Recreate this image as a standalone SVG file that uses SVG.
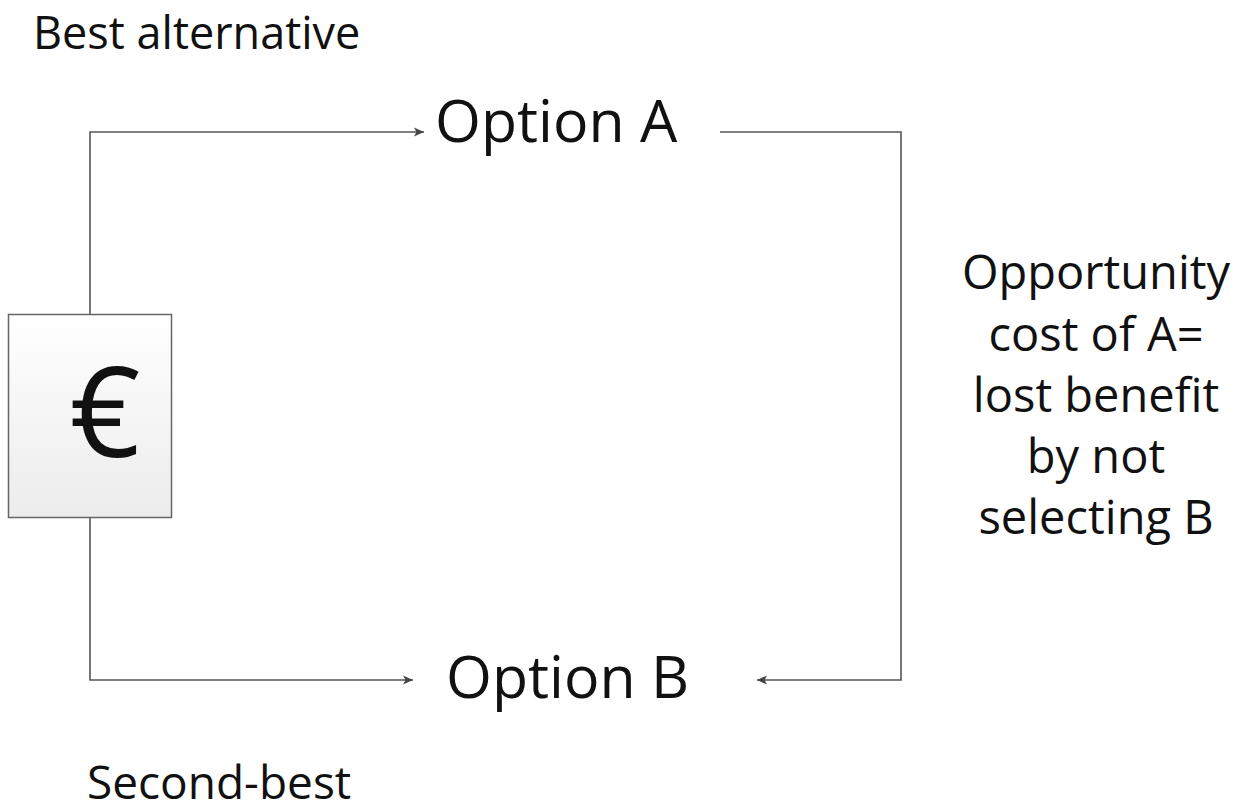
<svg xmlns="http://www.w3.org/2000/svg" width="1238" height="811" viewBox="0 0 1238 811">
<style>
text{font-family:"Open Sans","Noto Sans","Liberation Sans",sans-serif;fill:#111;}
.conn{fill:none;stroke:#555;stroke-width:1.6;}
</style>
<defs>
<linearGradient id="boxg" x1="0" y1="0" x2="0" y2="1">
<stop offset="0" stop-color="#ffffff"/>
<stop offset="1" stop-color="#ececec"/>
</linearGradient>
<marker id="arr" viewBox="0 0 10 10" refX="10" refY="5" markerWidth="10" markerHeight="10" markerUnits="userSpaceOnUse" orient="auto">
<path d="M0,0.5 L10,5 L0,9.5 L2.5,5 Z" fill="#444"/>
</marker>
</defs>
<rect width="1238" height="811" fill="#ffffff"/>
<g id="connectors">
<path class="conn" d="M90,314 V132 H424" marker-end="url(#arr)"/>
<path class="conn" d="M90,517 V680 H413" marker-end="url(#arr)"/>
<path class="conn" d="M720,132 H901 V680 H757" marker-end="url(#arr)"/>
</g>
<g id="euro">
<rect x="8.5" y="314.5" width="163" height="203" fill="url(#boxg)" stroke="#666" stroke-width="1.5"/>
<text x="105" y="457" font-size="124" text-anchor="middle">€</text>
</g>
<g id="optionA">
<text x="435" y="142" font-size="59">Option A</text>
</g>
<g id="optionB">
<text x="446" y="698" font-size="59">Option B</text>
</g>
<g id="best">
<text x="33" y="48.5" font-size="45">Best alternative</text>
</g>
<g id="second">
<text x="87" y="799" font-size="46">Second-best</text>
</g>
<g id="oppcost">
<text x="1096" y="289" font-size="47" text-anchor="middle">Opportunity</text>
<text x="1096" y="351" font-size="47" text-anchor="middle">cost of A=</text>
<text x="1096" y="412" font-size="47" text-anchor="middle">lost benefit</text>
<text x="1096" y="473" font-size="47" text-anchor="middle">by not</text>
<text x="1096" y="534" font-size="47" text-anchor="middle">selecting B</text>
</g>
</svg>
